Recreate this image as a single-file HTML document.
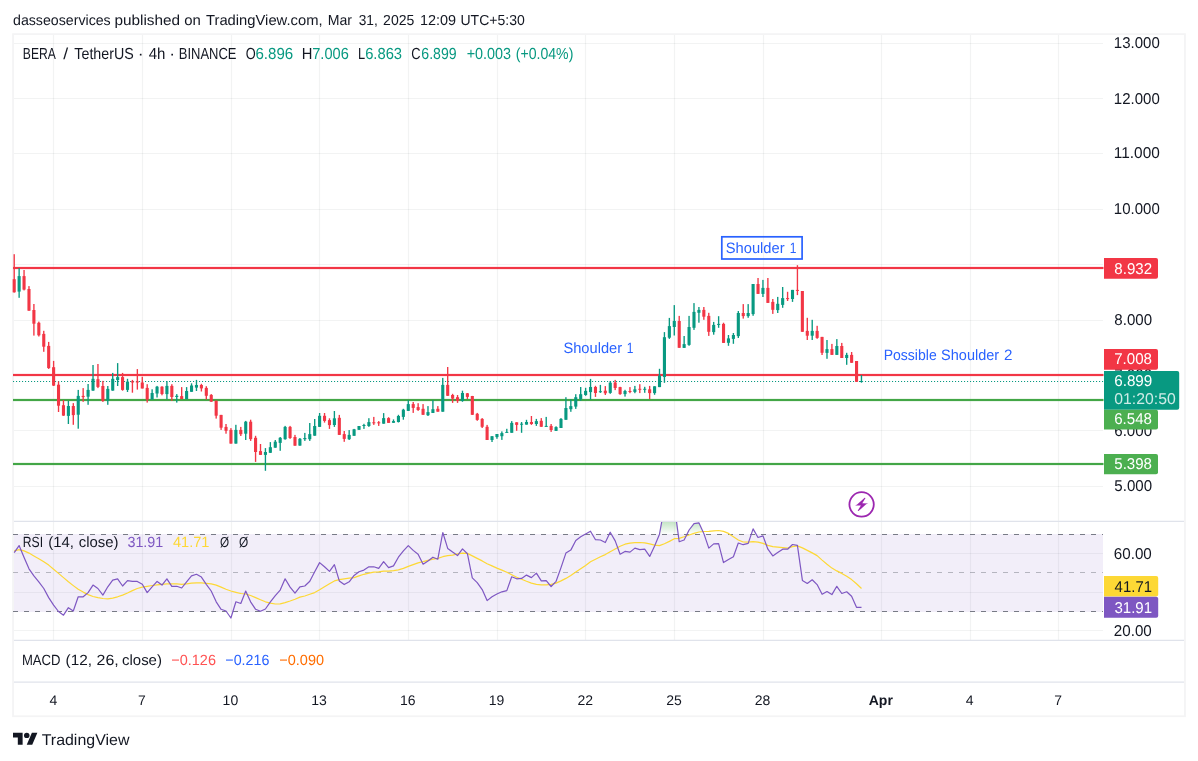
<!DOCTYPE html>
<html><head><meta charset="utf-8"><title>BERA / TetherUS chart</title>
<style>
html,body{margin:0;padding:0;background:#fff;}
body{width:1198px;height:761px;position:relative;overflow:hidden;font-family:"Liberation Sans",sans-serif;}
svg{position:absolute;left:0;top:0;}
</style></head><body>
<svg width="1198" height="761" viewBox="0 0 1198 761" shape-rendering="auto">
<line x1="13" x2="1103" y1="486.5" y2="486.5" stroke="#2a2e39" stroke-opacity="0.06" stroke-width="1.15"/>
<line x1="13" x2="1103" y1="430.5" y2="430.5" stroke="#2a2e39" stroke-opacity="0.06" stroke-width="1.15"/>
<line x1="13" x2="1103" y1="375.5" y2="375.5" stroke="#2a2e39" stroke-opacity="0.06" stroke-width="1.15"/>
<line x1="13" x2="1103" y1="320.5" y2="320.5" stroke="#2a2e39" stroke-opacity="0.06" stroke-width="1.15"/>
<line x1="13" x2="1103" y1="264.5" y2="264.5" stroke="#2a2e39" stroke-opacity="0.06" stroke-width="1.15"/>
<line x1="13" x2="1103" y1="209.5" y2="209.5" stroke="#2a2e39" stroke-opacity="0.06" stroke-width="1.15"/>
<line x1="13" x2="1103" y1="153.5" y2="153.5" stroke="#2a2e39" stroke-opacity="0.06" stroke-width="1.15"/>
<line x1="13" x2="1103" y1="98.5" y2="98.5" stroke="#2a2e39" stroke-opacity="0.06" stroke-width="1.15"/>
<line x1="13" x2="1103" y1="43.5" y2="43.5" stroke="#2a2e39" stroke-opacity="0.06" stroke-width="1.15"/>
<line x1="53.5" x2="53.5" y1="35" y2="521" stroke="#2a2e39" stroke-opacity="0.06" stroke-width="1.15"/>
<line x1="53.5" x2="53.5" y1="522" y2="640" stroke="#2a2e39" stroke-opacity="0.06" stroke-width="1.15"/>
<line x1="142.5" x2="142.5" y1="35" y2="521" stroke="#2a2e39" stroke-opacity="0.06" stroke-width="1.15"/>
<line x1="142.5" x2="142.5" y1="522" y2="640" stroke="#2a2e39" stroke-opacity="0.06" stroke-width="1.15"/>
<line x1="231.5" x2="231.5" y1="35" y2="521" stroke="#2a2e39" stroke-opacity="0.06" stroke-width="1.15"/>
<line x1="231.5" x2="231.5" y1="522" y2="640" stroke="#2a2e39" stroke-opacity="0.06" stroke-width="1.15"/>
<line x1="319.5" x2="319.5" y1="35" y2="521" stroke="#2a2e39" stroke-opacity="0.06" stroke-width="1.15"/>
<line x1="319.5" x2="319.5" y1="522" y2="640" stroke="#2a2e39" stroke-opacity="0.06" stroke-width="1.15"/>
<line x1="408.5" x2="408.5" y1="35" y2="521" stroke="#2a2e39" stroke-opacity="0.06" stroke-width="1.15"/>
<line x1="408.5" x2="408.5" y1="522" y2="640" stroke="#2a2e39" stroke-opacity="0.06" stroke-width="1.15"/>
<line x1="497.5" x2="497.5" y1="35" y2="521" stroke="#2a2e39" stroke-opacity="0.06" stroke-width="1.15"/>
<line x1="497.5" x2="497.5" y1="522" y2="640" stroke="#2a2e39" stroke-opacity="0.06" stroke-width="1.15"/>
<line x1="585.5" x2="585.5" y1="35" y2="521" stroke="#2a2e39" stroke-opacity="0.06" stroke-width="1.15"/>
<line x1="585.5" x2="585.5" y1="522" y2="640" stroke="#2a2e39" stroke-opacity="0.06" stroke-width="1.15"/>
<line x1="674.5" x2="674.5" y1="35" y2="521" stroke="#2a2e39" stroke-opacity="0.06" stroke-width="1.15"/>
<line x1="674.5" x2="674.5" y1="522" y2="640" stroke="#2a2e39" stroke-opacity="0.06" stroke-width="1.15"/>
<line x1="763.5" x2="763.5" y1="35" y2="521" stroke="#2a2e39" stroke-opacity="0.06" stroke-width="1.15"/>
<line x1="763.5" x2="763.5" y1="522" y2="640" stroke="#2a2e39" stroke-opacity="0.06" stroke-width="1.15"/>
<line x1="881.5" x2="881.5" y1="35" y2="521" stroke="#2a2e39" stroke-opacity="0.06" stroke-width="1.15"/>
<line x1="881.5" x2="881.5" y1="522" y2="640" stroke="#2a2e39" stroke-opacity="0.06" stroke-width="1.15"/>
<line x1="970.5" x2="970.5" y1="35" y2="521" stroke="#2a2e39" stroke-opacity="0.06" stroke-width="1.15"/>
<line x1="970.5" x2="970.5" y1="522" y2="640" stroke="#2a2e39" stroke-opacity="0.06" stroke-width="1.15"/>
<line x1="1058.5" x2="1058.5" y1="35" y2="521" stroke="#2a2e39" stroke-opacity="0.06" stroke-width="1.15"/>
<line x1="1058.5" x2="1058.5" y1="522" y2="640" stroke="#2a2e39" stroke-opacity="0.06" stroke-width="1.15"/>
<line x1="13" x2="1103" y1="630.5" y2="630.5" stroke="#2a2e39" stroke-opacity="0.06" stroke-width="1.15"/>
<line x1="13" x2="1103" y1="592.5" y2="592.5" stroke="#2a2e39" stroke-opacity="0.06" stroke-width="1.15"/>
<line x1="13" x2="1103" y1="553.5" y2="553.5" stroke="#2a2e39" stroke-opacity="0.06" stroke-width="1.15"/>
<rect x="13" y="534" width="1090" height="78" fill="#7e57c2" fill-opacity="0.1"/>
<line x1="13" x2="1184.5" y1="521.4" y2="521.4" stroke="#e0e3eb" stroke-width="1.2"/>
<line x1="13" x2="1184.5" y1="640.4" y2="640.4" stroke="#e0e3eb" stroke-width="1.2"/>
<line x1="13" x2="1184.5" y1="682.2" y2="682.2" stroke="#e0e3eb" stroke-width="1.2"/>
<rect x="13.05" y="34.15" width="1171.9" height="682.1" fill="none" stroke="#f4f4f5" stroke-width="1.8"/>
<line x1="13" x2="1103.5" y1="381.5" y2="381.5" stroke="#089981" stroke-width="1.1" stroke-dasharray="1.1 1.9"/>
<rect x="13" y="266.9" width="1090.5" height="2.2" fill="#f23645"/>
<rect x="13" y="373.9" width="1090.5" height="2.2" fill="#f23645"/>
<rect x="13" y="398.9" width="1090.5" height="2.2" fill="#43a647"/>
<rect x="13" y="462.9" width="1090.5" height="2.2" fill="#43a647"/>
<rect x="13.52" y="254.2" width="1.36" height="38.4" fill="#f23645"/>
<rect x="12.65" y="279.2" width="3.1" height="13.1" fill="#f23645"/>
<rect x="18.45" y="268.0" width="1.36" height="29.8" fill="#089981"/>
<rect x="17.58" y="276.1" width="3.1" height="15.5" fill="#089981"/>
<rect x="23.37" y="270.0" width="1.36" height="20.4" fill="#f23645"/>
<rect x="22.50" y="276.1" width="3.1" height="13.5" fill="#f23645"/>
<rect x="28.30" y="286.1" width="1.36" height="24.6" fill="#f23645"/>
<rect x="27.43" y="289.0" width="3.1" height="21.7" fill="#f23645"/>
<rect x="33.22" y="304.0" width="1.36" height="31.6" fill="#f23645"/>
<rect x="32.35" y="310.0" width="3.1" height="13.7" fill="#f23645"/>
<rect x="38.15" y="321.6" width="1.36" height="14.9" fill="#f23645"/>
<rect x="37.28" y="322.8" width="3.1" height="12.5" fill="#f23645"/>
<rect x="43.08" y="330.8" width="1.36" height="21.0" fill="#f23645"/>
<rect x="42.21" y="333.9" width="3.1" height="12.8" fill="#f23645"/>
<rect x="48.00" y="341.9" width="1.36" height="27.0" fill="#f23645"/>
<rect x="47.13" y="345.9" width="3.1" height="22.2" fill="#f23645"/>
<rect x="52.93" y="360.9" width="1.36" height="25.1" fill="#f23645"/>
<rect x="52.06" y="367.2" width="3.1" height="18.4" fill="#f23645"/>
<rect x="57.85" y="381.4" width="1.36" height="30.6" fill="#f23645"/>
<rect x="56.98" y="384.7" width="3.1" height="21.0" fill="#f23645"/>
<rect x="62.78" y="400.0" width="1.36" height="15.9" fill="#f23645"/>
<rect x="61.91" y="405.2" width="3.1" height="10.4" fill="#f23645"/>
<rect x="67.71" y="400.9" width="1.36" height="23.1" fill="#089981"/>
<rect x="66.84" y="406.0" width="3.1" height="9.9" fill="#089981"/>
<rect x="72.63" y="403.1" width="1.36" height="21.7" fill="#f23645"/>
<rect x="71.76" y="406.0" width="3.1" height="9.1" fill="#f23645"/>
<rect x="77.56" y="389.9" width="1.36" height="38.8" fill="#089981"/>
<rect x="76.69" y="395.9" width="3.1" height="18.8" fill="#089981"/>
<rect x="82.48" y="388.1" width="1.36" height="13.7" fill="#f23645"/>
<rect x="81.61" y="395.9" width="3.1" height="1.2" fill="#f23645"/>
<rect x="87.41" y="384.0" width="1.36" height="20.8" fill="#089981"/>
<rect x="86.54" y="389.9" width="3.1" height="6.8" fill="#089981"/>
<rect x="92.34" y="365.0" width="1.36" height="25.8" fill="#089981"/>
<rect x="91.47" y="378.8" width="3.1" height="11.8" fill="#089981"/>
<rect x="97.26" y="364.0" width="1.36" height="24.1" fill="#f23645"/>
<rect x="96.39" y="379.2" width="3.1" height="7.7" fill="#f23645"/>
<rect x="102.19" y="380.9" width="1.36" height="21.0" fill="#f23645"/>
<rect x="101.32" y="386.0" width="3.1" height="15.0" fill="#f23645"/>
<rect x="107.11" y="386.0" width="1.36" height="18.8" fill="#089981"/>
<rect x="106.24" y="388.9" width="3.1" height="11.6" fill="#089981"/>
<rect x="112.04" y="372.9" width="1.36" height="17.8" fill="#089981"/>
<rect x="111.17" y="378.8" width="3.1" height="11.8" fill="#089981"/>
<rect x="116.97" y="363.1" width="1.36" height="22.9" fill="#089981"/>
<rect x="116.10" y="377.1" width="3.1" height="2.9" fill="#089981"/>
<rect x="121.89" y="372.9" width="1.36" height="17.8" fill="#f23645"/>
<rect x="121.02" y="377.1" width="3.1" height="12.8" fill="#f23645"/>
<rect x="126.82" y="378.8" width="1.36" height="13.2" fill="#089981"/>
<rect x="125.95" y="381.7" width="3.1" height="8.2" fill="#089981"/>
<rect x="131.74" y="379.9" width="1.36" height="12.8" fill="#f23645"/>
<rect x="130.87" y="381.3" width="3.1" height="1.2" fill="#f23645"/>
<rect x="136.67" y="369.1" width="1.36" height="20.5" fill="#f23645"/>
<rect x="135.80" y="381.3" width="3.1" height="1.2" fill="#f23645"/>
<rect x="141.60" y="376.8" width="1.36" height="11.6" fill="#f23645"/>
<rect x="140.73" y="382.5" width="3.1" height="6.0" fill="#f23645"/>
<rect x="146.52" y="384.2" width="1.36" height="18.4" fill="#f23645"/>
<rect x="145.65" y="387.9" width="3.1" height="11.6" fill="#f23645"/>
<rect x="151.45" y="389.3" width="1.36" height="10.2" fill="#089981"/>
<rect x="150.58" y="393.0" width="3.1" height="6.5" fill="#089981"/>
<rect x="156.37" y="385.9" width="1.36" height="11.6" fill="#089981"/>
<rect x="155.50" y="386.7" width="3.1" height="6.8" fill="#089981"/>
<rect x="161.30" y="386.2" width="1.36" height="9.1" fill="#f23645"/>
<rect x="160.43" y="386.7" width="3.1" height="7.3" fill="#f23645"/>
<rect x="166.23" y="381.1" width="1.36" height="18.1" fill="#089981"/>
<rect x="165.36" y="385.9" width="3.1" height="8.2" fill="#089981"/>
<rect x="171.15" y="384.2" width="1.36" height="16.6" fill="#f23645"/>
<rect x="170.28" y="385.9" width="3.1" height="11.1" fill="#f23645"/>
<rect x="176.08" y="394.1" width="1.36" height="8.5" fill="#089981"/>
<rect x="175.21" y="395.8" width="3.1" height="1.2" fill="#089981"/>
<rect x="181.00" y="387.1" width="1.36" height="12.0" fill="#f23645"/>
<rect x="180.13" y="396.1" width="3.1" height="2.9" fill="#f23645"/>
<rect x="185.93" y="387.1" width="1.36" height="12.1" fill="#089981"/>
<rect x="185.06" y="391.0" width="3.1" height="8.0" fill="#089981"/>
<rect x="190.86" y="383.3" width="1.36" height="8.5" fill="#089981"/>
<rect x="189.99" y="385.5" width="3.1" height="6.3" fill="#089981"/>
<rect x="195.78" y="379.9" width="1.36" height="11.1" fill="#089981"/>
<rect x="194.91" y="385.0" width="3.1" height="2.6" fill="#089981"/>
<rect x="200.71" y="383.8" width="1.36" height="7.7" fill="#f23645"/>
<rect x="199.84" y="385.0" width="3.1" height="3.4" fill="#f23645"/>
<rect x="205.63" y="386.2" width="1.36" height="13.3" fill="#f23645"/>
<rect x="204.76" y="387.9" width="3.1" height="7.9" fill="#f23645"/>
<rect x="210.56" y="394.1" width="1.36" height="7.7" fill="#f23645"/>
<rect x="209.69" y="394.9" width="3.1" height="6.8" fill="#f23645"/>
<rect x="215.49" y="400.7" width="1.36" height="17.9" fill="#f23645"/>
<rect x="214.62" y="400.7" width="3.1" height="15.0" fill="#f23645"/>
<rect x="220.41" y="414.9" width="1.36" height="15.0" fill="#f23645"/>
<rect x="219.54" y="414.9" width="3.1" height="12.8" fill="#f23645"/>
<rect x="225.34" y="424.0" width="1.36" height="9.7" fill="#f23645"/>
<rect x="224.47" y="426.9" width="3.1" height="3.9" fill="#f23645"/>
<rect x="230.26" y="428.1" width="1.36" height="15.5" fill="#f23645"/>
<rect x="229.39" y="429.9" width="3.1" height="13.7" fill="#f23645"/>
<rect x="235.19" y="424.8" width="1.36" height="18.8" fill="#089981"/>
<rect x="234.32" y="429.9" width="3.1" height="13.7" fill="#089981"/>
<rect x="240.12" y="426.9" width="1.36" height="9.1" fill="#f23645"/>
<rect x="239.25" y="429.9" width="3.1" height="4.3" fill="#f23645"/>
<rect x="245.04" y="420.9" width="1.36" height="19.1" fill="#089981"/>
<rect x="244.17" y="421.7" width="3.1" height="12.0" fill="#089981"/>
<rect x="249.97" y="419.7" width="1.36" height="21.2" fill="#f23645"/>
<rect x="249.10" y="421.7" width="3.1" height="17.4" fill="#f23645"/>
<rect x="254.89" y="435.8" width="1.36" height="26.1" fill="#f23645"/>
<rect x="254.02" y="437.8" width="3.1" height="14.2" fill="#f23645"/>
<rect x="259.82" y="444.0" width="1.36" height="10.9" fill="#f23645"/>
<rect x="258.95" y="451.1" width="3.1" height="3.8" fill="#f23645"/>
<rect x="264.75" y="448.1" width="1.36" height="22.7" fill="#089981"/>
<rect x="263.88" y="452.0" width="3.1" height="2.9" fill="#089981"/>
<rect x="269.67" y="442.1" width="1.36" height="10.8" fill="#089981"/>
<rect x="268.80" y="447.2" width="3.1" height="5.6" fill="#089981"/>
<rect x="274.60" y="440.0" width="1.36" height="7.7" fill="#089981"/>
<rect x="273.73" y="441.7" width="3.1" height="6.0" fill="#089981"/>
<rect x="279.52" y="437.0" width="1.36" height="13.8" fill="#089981"/>
<rect x="278.65" y="437.8" width="3.1" height="5.1" fill="#089981"/>
<rect x="284.45" y="425.9" width="1.36" height="13.8" fill="#089981"/>
<rect x="283.58" y="426.9" width="3.1" height="12.3" fill="#089981"/>
<rect x="289.38" y="425.9" width="1.36" height="13.0" fill="#f23645"/>
<rect x="288.51" y="426.9" width="3.1" height="11.1" fill="#f23645"/>
<rect x="294.30" y="434.9" width="1.36" height="10.8" fill="#f23645"/>
<rect x="293.43" y="437.0" width="3.1" height="8.7" fill="#f23645"/>
<rect x="299.23" y="438.0" width="1.36" height="7.7" fill="#089981"/>
<rect x="298.36" y="438.8" width="3.1" height="6.8" fill="#089981"/>
<rect x="304.15" y="432.9" width="1.36" height="8.0" fill="#089981"/>
<rect x="303.28" y="438.0" width="3.1" height="1.2" fill="#089981"/>
<rect x="309.08" y="423.0" width="1.36" height="17.9" fill="#089981"/>
<rect x="308.21" y="434.1" width="3.1" height="5.1" fill="#089981"/>
<rect x="314.01" y="419.0" width="1.36" height="16.7" fill="#089981"/>
<rect x="313.14" y="426.0" width="3.1" height="9.7" fill="#089981"/>
<rect x="318.93" y="413.0" width="1.36" height="13.8" fill="#089981"/>
<rect x="318.06" y="415.8" width="3.1" height="11.1" fill="#089981"/>
<rect x="323.86" y="413.0" width="1.36" height="9.6" fill="#f23645"/>
<rect x="322.99" y="415.8" width="3.1" height="5.1" fill="#f23645"/>
<rect x="328.78" y="418.3" width="1.36" height="10.6" fill="#f23645"/>
<rect x="327.91" y="420.1" width="3.1" height="5.0" fill="#f23645"/>
<rect x="333.71" y="411.0" width="1.36" height="15.9" fill="#089981"/>
<rect x="332.84" y="418.3" width="3.1" height="6.7" fill="#089981"/>
<rect x="338.64" y="414.9" width="1.36" height="20.0" fill="#f23645"/>
<rect x="337.77" y="417.8" width="3.1" height="17.1" fill="#f23645"/>
<rect x="343.56" y="431.0" width="1.36" height="10.8" fill="#f23645"/>
<rect x="342.69" y="434.1" width="3.1" height="4.8" fill="#f23645"/>
<rect x="348.49" y="430.1" width="1.36" height="9.9" fill="#089981"/>
<rect x="347.62" y="434.9" width="3.1" height="4.3" fill="#089981"/>
<rect x="353.41" y="428.9" width="1.36" height="6.8" fill="#089981"/>
<rect x="352.54" y="429.3" width="3.1" height="6.5" fill="#089981"/>
<rect x="358.34" y="426.0" width="1.36" height="3.8" fill="#089981"/>
<rect x="357.47" y="426.0" width="3.1" height="3.8" fill="#089981"/>
<rect x="363.27" y="423.8" width="1.36" height="5.1" fill="#089981"/>
<rect x="362.40" y="425.0" width="3.1" height="1.0" fill="#089981"/>
<rect x="368.19" y="418.2" width="1.36" height="8.7" fill="#089981"/>
<rect x="367.32" y="422.1" width="3.1" height="3.9" fill="#089981"/>
<rect x="373.12" y="416.9" width="1.36" height="8.0" fill="#f23645"/>
<rect x="372.25" y="422.3" width="3.1" height="1.0" fill="#f23645"/>
<rect x="378.04" y="421.1" width="1.36" height="4.8" fill="#f23645"/>
<rect x="377.17" y="422.3" width="3.1" height="1.0" fill="#f23645"/>
<rect x="382.97" y="413.1" width="1.36" height="10.6" fill="#089981"/>
<rect x="382.10" y="418.1" width="3.1" height="5.6" fill="#089981"/>
<rect x="387.90" y="417.2" width="1.36" height="5.6" fill="#f23645"/>
<rect x="387.03" y="418.1" width="3.1" height="4.8" fill="#f23645"/>
<rect x="392.82" y="419.4" width="1.36" height="3.4" fill="#089981"/>
<rect x="391.95" y="421.1" width="3.1" height="1.7" fill="#089981"/>
<rect x="397.75" y="414.8" width="1.36" height="7.7" fill="#089981"/>
<rect x="396.88" y="416.0" width="3.1" height="6.0" fill="#089981"/>
<rect x="402.67" y="408.8" width="1.36" height="10.9" fill="#089981"/>
<rect x="401.80" y="409.7" width="3.1" height="7.2" fill="#089981"/>
<rect x="407.60" y="400.1" width="1.36" height="10.8" fill="#089981"/>
<rect x="406.73" y="404.1" width="3.1" height="6.8" fill="#089981"/>
<rect x="412.53" y="402.0" width="1.36" height="10.9" fill="#f23645"/>
<rect x="411.66" y="404.1" width="3.1" height="3.8" fill="#f23645"/>
<rect x="417.45" y="403.2" width="1.36" height="7.7" fill="#f23645"/>
<rect x="416.58" y="407.1" width="3.1" height="2.9" fill="#f23645"/>
<rect x="422.38" y="404.1" width="1.36" height="10.8" fill="#f23645"/>
<rect x="421.51" y="408.8" width="3.1" height="6.0" fill="#f23645"/>
<rect x="427.30" y="406.1" width="1.36" height="9.9" fill="#089981"/>
<rect x="426.43" y="412.1" width="3.1" height="3.1" fill="#089981"/>
<rect x="432.23" y="400.1" width="1.36" height="12.8" fill="#089981"/>
<rect x="431.36" y="409.2" width="3.1" height="3.8" fill="#089981"/>
<rect x="437.16" y="406.1" width="1.36" height="5.6" fill="#f23645"/>
<rect x="436.29" y="408.8" width="3.1" height="2.9" fill="#f23645"/>
<rect x="442.08" y="377.9" width="1.36" height="33.8" fill="#089981"/>
<rect x="441.21" y="384.9" width="3.1" height="26.8" fill="#089981"/>
<rect x="447.01" y="367.0" width="1.36" height="28.9" fill="#f23645"/>
<rect x="446.14" y="384.9" width="3.1" height="10.9" fill="#f23645"/>
<rect x="451.93" y="393.8" width="1.36" height="9.1" fill="#f23645"/>
<rect x="451.06" y="395.0" width="3.1" height="3.6" fill="#f23645"/>
<rect x="456.86" y="395.0" width="1.36" height="7.9" fill="#f23645"/>
<rect x="455.99" y="397.2" width="3.1" height="3.8" fill="#f23645"/>
<rect x="461.79" y="390.7" width="1.36" height="11.1" fill="#089981"/>
<rect x="460.92" y="393.0" width="3.1" height="8.0" fill="#089981"/>
<rect x="466.71" y="393.0" width="1.36" height="6.0" fill="#f23645"/>
<rect x="465.84" y="393.3" width="3.1" height="3.6" fill="#f23645"/>
<rect x="471.64" y="395.9" width="1.36" height="19.0" fill="#f23645"/>
<rect x="470.77" y="396.0" width="3.1" height="18.8" fill="#f23645"/>
<rect x="476.56" y="412.9" width="1.36" height="7.9" fill="#f23645"/>
<rect x="475.69" y="413.8" width="3.1" height="6.1" fill="#f23645"/>
<rect x="481.49" y="418.1" width="1.36" height="9.9" fill="#f23645"/>
<rect x="480.62" y="418.9" width="3.1" height="7.9" fill="#f23645"/>
<rect x="486.42" y="424.9" width="1.36" height="15.0" fill="#f23645"/>
<rect x="485.55" y="426.8" width="3.1" height="13.2" fill="#f23645"/>
<rect x="491.34" y="436.2" width="1.36" height="5.8" fill="#089981"/>
<rect x="490.47" y="436.2" width="3.1" height="3.8" fill="#089981"/>
<rect x="496.27" y="434.0" width="1.36" height="4.8" fill="#089981"/>
<rect x="495.40" y="434.0" width="3.1" height="3.1" fill="#089981"/>
<rect x="501.19" y="431.4" width="1.36" height="8.5" fill="#089981"/>
<rect x="500.32" y="433.1" width="3.1" height="3.1" fill="#089981"/>
<rect x="506.12" y="428.8" width="1.36" height="3.9" fill="#089981"/>
<rect x="505.25" y="431.9" width="3.1" height="1.0" fill="#089981"/>
<rect x="511.05" y="421.1" width="1.36" height="11.6" fill="#089981"/>
<rect x="510.18" y="422.9" width="3.1" height="9.9" fill="#089981"/>
<rect x="515.97" y="422.3" width="1.36" height="8.5" fill="#f23645"/>
<rect x="515.10" y="422.3" width="3.1" height="2.6" fill="#f23645"/>
<rect x="520.90" y="422.0" width="1.36" height="10.8" fill="#089981"/>
<rect x="520.03" y="423.7" width="3.1" height="1.0" fill="#089981"/>
<rect x="525.82" y="419.8" width="1.36" height="4.8" fill="#089981"/>
<rect x="524.95" y="422.0" width="3.1" height="2.6" fill="#089981"/>
<rect x="530.75" y="416.0" width="1.36" height="8.9" fill="#f23645"/>
<rect x="529.88" y="422.0" width="3.1" height="2.0" fill="#f23645"/>
<rect x="535.68" y="418.9" width="1.36" height="7.0" fill="#089981"/>
<rect x="534.81" y="421.1" width="3.1" height="2.9" fill="#089981"/>
<rect x="540.60" y="418.1" width="1.36" height="8.7" fill="#f23645"/>
<rect x="539.73" y="420.8" width="3.1" height="6.0" fill="#f23645"/>
<rect x="545.53" y="416.9" width="1.36" height="9.9" fill="#089981"/>
<rect x="544.66" y="425.9" width="3.1" height="1.0" fill="#089981"/>
<rect x="550.45" y="424.0" width="1.36" height="7.9" fill="#f23645"/>
<rect x="549.58" y="425.9" width="3.1" height="4.1" fill="#f23645"/>
<rect x="555.38" y="426.3" width="1.36" height="4.6" fill="#089981"/>
<rect x="554.51" y="427.1" width="3.1" height="3.8" fill="#089981"/>
<rect x="560.31" y="418.1" width="1.36" height="9.9" fill="#089981"/>
<rect x="559.44" y="418.9" width="3.1" height="9.1" fill="#089981"/>
<rect x="565.23" y="397.2" width="1.36" height="22.5" fill="#089981"/>
<rect x="564.36" y="408.0" width="3.1" height="11.8" fill="#089981"/>
<rect x="570.16" y="399.3" width="1.36" height="12.5" fill="#089981"/>
<rect x="569.29" y="406.1" width="3.1" height="3.1" fill="#089981"/>
<rect x="575.08" y="394.2" width="1.36" height="14.7" fill="#089981"/>
<rect x="574.21" y="397.2" width="3.1" height="9.4" fill="#089981"/>
<rect x="580.01" y="387.0" width="1.36" height="13.7" fill="#089981"/>
<rect x="579.14" y="394.2" width="3.1" height="4.8" fill="#089981"/>
<rect x="584.94" y="387.8" width="1.36" height="8.0" fill="#089981"/>
<rect x="584.07" y="390.9" width="3.1" height="4.1" fill="#089981"/>
<rect x="589.86" y="378.9" width="1.36" height="20.8" fill="#089981"/>
<rect x="588.99" y="387.0" width="3.1" height="5.1" fill="#089981"/>
<rect x="594.79" y="385.8" width="1.36" height="11.1" fill="#f23645"/>
<rect x="593.92" y="387.0" width="3.1" height="6.0" fill="#f23645"/>
<rect x="599.71" y="384.9" width="1.36" height="8.0" fill="#089981"/>
<rect x="598.84" y="391.2" width="3.1" height="1.0" fill="#089981"/>
<rect x="604.64" y="386.1" width="1.36" height="8.9" fill="#f23645"/>
<rect x="603.77" y="390.7" width="3.1" height="2.6" fill="#f23645"/>
<rect x="609.57" y="381.0" width="1.36" height="12.8" fill="#089981"/>
<rect x="608.70" y="382.7" width="3.1" height="10.2" fill="#089981"/>
<rect x="614.49" y="379.9" width="1.36" height="10.2" fill="#f23645"/>
<rect x="613.62" y="382.5" width="3.1" height="5.5" fill="#f23645"/>
<rect x="619.42" y="386.8" width="1.36" height="8.0" fill="#f23645"/>
<rect x="618.55" y="387.1" width="3.1" height="7.0" fill="#f23645"/>
<rect x="624.34" y="389.8" width="1.36" height="6.8" fill="#089981"/>
<rect x="623.47" y="391.0" width="3.1" height="3.1" fill="#089981"/>
<rect x="629.27" y="387.1" width="1.36" height="6.1" fill="#f23645"/>
<rect x="628.40" y="391.0" width="3.1" height="1.0" fill="#f23645"/>
<rect x="634.20" y="385.9" width="1.36" height="7.3" fill="#089981"/>
<rect x="633.33" y="389.3" width="3.1" height="2.6" fill="#089981"/>
<rect x="639.12" y="384.2" width="1.36" height="8.9" fill="#f23645"/>
<rect x="638.25" y="388.8" width="3.1" height="1.0" fill="#f23645"/>
<rect x="644.05" y="386.8" width="1.36" height="6.0" fill="#089981"/>
<rect x="643.18" y="388.8" width="3.1" height="1.0" fill="#089981"/>
<rect x="648.97" y="385.9" width="1.36" height="13.2" fill="#f23645"/>
<rect x="648.10" y="389.3" width="3.1" height="3.8" fill="#f23645"/>
<rect x="653.90" y="386.3" width="1.36" height="8.5" fill="#089981"/>
<rect x="653.03" y="386.3" width="3.1" height="6.8" fill="#089981"/>
<rect x="658.83" y="368.8" width="1.36" height="18.3" fill="#089981"/>
<rect x="657.96" y="375.7" width="3.1" height="11.4" fill="#089981"/>
<rect x="663.75" y="332.1" width="1.36" height="50.7" fill="#089981"/>
<rect x="662.88" y="337.2" width="3.1" height="39.8" fill="#089981"/>
<rect x="668.68" y="317.9" width="1.36" height="21.0" fill="#089981"/>
<rect x="667.81" y="326.1" width="3.1" height="11.6" fill="#089981"/>
<rect x="673.60" y="305.1" width="1.36" height="30.4" fill="#089981"/>
<rect x="672.73" y="321.0" width="3.1" height="6.0" fill="#089981"/>
<rect x="678.53" y="315.9" width="1.36" height="31.9" fill="#f23645"/>
<rect x="677.66" y="321.0" width="3.1" height="26.8" fill="#f23645"/>
<rect x="683.46" y="336.0" width="1.36" height="11.8" fill="#089981"/>
<rect x="682.59" y="344.1" width="3.1" height="3.8" fill="#089981"/>
<rect x="688.38" y="315.9" width="1.36" height="29.9" fill="#089981"/>
<rect x="687.51" y="327.0" width="3.1" height="17.9" fill="#089981"/>
<rect x="693.31" y="303.1" width="1.36" height="26.8" fill="#089981"/>
<rect x="692.44" y="311.9" width="3.1" height="15.9" fill="#089981"/>
<rect x="698.23" y="307.0" width="1.36" height="15.7" fill="#089981"/>
<rect x="697.36" y="309.9" width="3.1" height="2.9" fill="#089981"/>
<rect x="703.16" y="307.0" width="1.36" height="12.8" fill="#f23645"/>
<rect x="702.29" y="309.9" width="3.1" height="6.8" fill="#f23645"/>
<rect x="708.09" y="312.8" width="1.36" height="23.1" fill="#f23645"/>
<rect x="707.22" y="315.9" width="3.1" height="15.9" fill="#f23645"/>
<rect x="713.01" y="321.9" width="1.36" height="12.8" fill="#089981"/>
<rect x="712.14" y="324.9" width="3.1" height="7.2" fill="#089981"/>
<rect x="717.94" y="316.2" width="1.36" height="11.6" fill="#089981"/>
<rect x="717.07" y="323.9" width="3.1" height="1.0" fill="#089981"/>
<rect x="722.86" y="322.7" width="1.36" height="20.2" fill="#f23645"/>
<rect x="721.99" y="323.9" width="3.1" height="19.0" fill="#f23645"/>
<rect x="727.79" y="335.0" width="1.36" height="10.8" fill="#089981"/>
<rect x="726.92" y="338.4" width="3.1" height="4.4" fill="#089981"/>
<rect x="732.72" y="333.0" width="1.36" height="10.8" fill="#089981"/>
<rect x="731.85" y="335.0" width="3.1" height="3.9" fill="#089981"/>
<rect x="737.64" y="311.0" width="1.36" height="27.0" fill="#089981"/>
<rect x="736.77" y="313.0" width="3.1" height="23.1" fill="#089981"/>
<rect x="742.57" y="304.1" width="1.36" height="14.5" fill="#f23645"/>
<rect x="741.70" y="313.0" width="3.1" height="3.1" fill="#f23645"/>
<rect x="747.49" y="304.1" width="1.36" height="13.7" fill="#089981"/>
<rect x="746.62" y="313.0" width="3.1" height="3.1" fill="#089981"/>
<rect x="752.42" y="284.0" width="1.36" height="31.8" fill="#089981"/>
<rect x="751.55" y="284.0" width="3.1" height="30.1" fill="#089981"/>
<rect x="757.35" y="278.0" width="1.36" height="15.9" fill="#f23645"/>
<rect x="756.48" y="284.0" width="3.1" height="9.9" fill="#f23645"/>
<rect x="762.27" y="279.9" width="1.36" height="17.1" fill="#089981"/>
<rect x="761.40" y="287.9" width="3.1" height="6.0" fill="#089981"/>
<rect x="767.20" y="278.0" width="1.36" height="24.9" fill="#f23645"/>
<rect x="766.33" y="287.9" width="3.1" height="15.0" fill="#f23645"/>
<rect x="772.12" y="299.0" width="1.36" height="14.9" fill="#f23645"/>
<rect x="771.25" y="301.9" width="3.1" height="7.9" fill="#f23645"/>
<rect x="777.05" y="296.9" width="1.36" height="16.1" fill="#089981"/>
<rect x="776.18" y="303.8" width="3.1" height="6.3" fill="#089981"/>
<rect x="781.98" y="287.0" width="1.36" height="20.8" fill="#089981"/>
<rect x="781.11" y="298.1" width="3.1" height="6.8" fill="#089981"/>
<rect x="786.90" y="291.8" width="1.36" height="9.2" fill="#f23645"/>
<rect x="786.03" y="298.1" width="3.1" height="1.0" fill="#f23645"/>
<rect x="791.83" y="289.9" width="1.36" height="12.0" fill="#089981"/>
<rect x="790.96" y="289.9" width="3.1" height="9.1" fill="#089981"/>
<rect x="796.75" y="265.2" width="1.36" height="29.9" fill="#f23645"/>
<rect x="795.88" y="289.9" width="3.1" height="1.0" fill="#f23645"/>
<rect x="801.68" y="291.0" width="1.36" height="40.8" fill="#f23645"/>
<rect x="800.81" y="291.0" width="3.1" height="40.8" fill="#f23645"/>
<rect x="806.61" y="317.8" width="1.36" height="22.2" fill="#f23645"/>
<rect x="805.74" y="330.9" width="3.1" height="4.8" fill="#f23645"/>
<rect x="811.53" y="319.8" width="1.36" height="20.2" fill="#089981"/>
<rect x="810.66" y="330.9" width="3.1" height="4.8" fill="#089981"/>
<rect x="816.46" y="325.8" width="1.36" height="13.0" fill="#f23645"/>
<rect x="815.59" y="330.9" width="3.1" height="7.0" fill="#f23645"/>
<rect x="821.38" y="336.9" width="1.36" height="18.1" fill="#f23645"/>
<rect x="820.51" y="336.9" width="3.1" height="15.9" fill="#f23645"/>
<rect x="826.31" y="340.0" width="1.36" height="18.8" fill="#089981"/>
<rect x="825.44" y="349.1" width="3.1" height="3.8" fill="#089981"/>
<rect x="831.24" y="343.9" width="1.36" height="10.9" fill="#f23645"/>
<rect x="830.37" y="349.1" width="3.1" height="5.8" fill="#f23645"/>
<rect x="836.16" y="339.1" width="1.36" height="15.7" fill="#089981"/>
<rect x="835.29" y="346.0" width="3.1" height="8.9" fill="#089981"/>
<rect x="841.09" y="342.9" width="1.36" height="15.0" fill="#f23645"/>
<rect x="840.22" y="346.0" width="3.1" height="12.0" fill="#f23645"/>
<rect x="846.01" y="352.8" width="1.36" height="12.0" fill="#089981"/>
<rect x="845.14" y="354.9" width="3.1" height="3.1" fill="#089981"/>
<rect x="850.94" y="352.0" width="1.36" height="10.8" fill="#f23645"/>
<rect x="850.07" y="354.9" width="3.1" height="7.9" fill="#f23645"/>
<rect x="855.87" y="361.0" width="1.36" height="20.8" fill="#f23645"/>
<rect x="855.00" y="361.0" width="3.1" height="20.8" fill="#f23645"/>
<rect x="860.79" y="375.0" width="1.36" height="7.7" fill="#089981"/>
<rect x="859.92" y="381.0" width="3.1" height="1.0" fill="#089981"/>
<defs><clipPath id="rc"><rect x="13" y="522" width="1091" height="118"/></clipPath><linearGradient id="gg" x1="0" y1="521" x2="0" y2="534.5" gradientUnits="userSpaceOnUse"><stop offset="0" stop-color="#4caf50" stop-opacity="0.35"/><stop offset="1" stop-color="#4caf50" stop-opacity="0"/></linearGradient></defs>
<g clip-path="url(#rc)"><path d="M442.4,534.5 L442.8,532.5 L443.4,534.5ZM584.5,534.5 L585.6,533.9 L590.5,531.2 L592.5,534.5ZM609.1,534.5 L610.2,532.2 L611.6,534.5ZM659.4,534.5 L659.5,534.2 L664.4,506.7 L669.4,502.5 L674.3,505.0 L678.2,534.5ZM686.9,534.5 L689.1,530.0 L694.0,523.7 L698.9,522.8 L703.8,533.4 L704.2,534.5ZM751.2,534.5 L753.1,528.9 L756.3,534.5Z" fill="url(#gg)"/>
<line x1="13" x2="1103" y1="534.5" y2="534.5" stroke="#787b86" stroke-width="1.1" stroke-dasharray="5 6" stroke-opacity="1"/>
<line x1="13" x2="1103" y1="572.5" y2="572.5" stroke="#787b86" stroke-width="1.1" stroke-dasharray="5 6" stroke-opacity="0.5"/>
<line x1="13" x2="1103" y1="611.5" y2="611.5" stroke="#787b86" stroke-width="1.1" stroke-dasharray="5 6" stroke-opacity="1"/>
<polyline fill="none" stroke="#fdd835" stroke-width="1.2" stroke-linejoin="round" points="14.2,550.9 19.1,549.7 24.1,550.9 29.0,553.1 33.9,555.9 38.8,558.7 43.8,561.7 48.7,565.1 53.6,569.3 58.5,573.4 63.5,577.6 68.4,581.8 73.3,585.6 78.2,589.3 83.2,592.1 88.1,594.6 93.0,596.5 97.9,597.6 102.9,598.5 107.8,598.8 112.7,598.1 117.6,596.8 122.6,595.1 127.5,593.0 132.4,590.6 137.3,588.5 142.3,587.1 147.2,586.3 152.1,585.5 157.1,584.8 162.0,584.3 166.9,583.9 171.8,583.8 176.8,583.9 181.7,584.3 186.6,583.8 191.5,583.1 196.5,582.8 201.4,582.9 206.3,583.4 211.2,583.9 216.2,585.1 221.1,587.1 226.0,589.3 230.9,591.0 235.9,592.3 240.8,593.5 245.7,594.0 250.6,595.5 255.6,597.6 260.5,599.8 265.4,601.8 270.4,603.1 275.3,604.0 280.2,603.8 285.1,602.6 290.1,601.0 295.0,599.3 299.9,597.1 304.8,596.0 309.8,594.3 314.7,592.6 319.6,589.8 324.5,586.8 329.5,583.8 334.4,580.9 339.3,579.6 344.2,578.8 349.2,578.1 354.1,577.6 359.0,575.9 363.9,574.3 368.9,573.1 373.8,572.1 378.7,571.8 383.6,571.1 388.6,571.1 393.5,570.6 398.4,569.8 403.4,568.4 408.3,566.4 413.2,564.6 418.1,562.9 423.1,561.7 428.0,560.4 432.9,559.2 437.8,558.4 442.8,556.7 447.7,555.6 452.6,555.1 457.5,553.9 462.5,553.1 467.4,553.4 472.3,555.9 477.2,558.4 482.2,560.9 487.1,563.7 492.0,565.9 496.9,568.1 501.9,570.1 506.8,572.3 511.7,574.8 516.7,577.3 521.6,579.3 526.5,581.3 531.4,583.1 536.4,584.4 541.3,584.8 546.2,584.8 551.1,584.3 556.1,583.1 561.0,580.9 565.9,578.4 570.8,575.4 575.8,572.1 580.7,568.8 585.6,565.4 590.5,561.7 595.5,559.2 600.4,556.7 605.3,554.6 610.2,551.7 615.2,548.9 620.1,546.2 625.0,544.2 630.0,543.2 634.9,542.7 639.8,542.5 644.7,542.9 649.7,543.9 654.6,545.1 659.5,545.6 664.4,543.7 669.4,541.4 674.3,538.7 679.2,538.4 684.1,536.7 689.1,535.0 694.0,533.4 698.9,532.0 703.8,531.5 708.8,531.4 713.7,530.9 718.6,530.5 723.5,531.4 728.5,533.4 733.4,536.7 738.3,540.0 743.2,542.0 748.2,542.2 753.1,541.7 758.0,542.2 763.0,543.4 767.9,545.4 772.8,546.7 777.7,547.1 782.7,547.6 787.6,548.1 792.5,546.7 797.4,545.9 802.4,547.9 807.3,550.4 812.2,552.9 817.1,555.6 822.1,560.1 827.0,564.2 831.9,568.1 836.8,570.9 841.8,573.4 846.7,576.3 851.6,579.6 856.5,583.8 861.5,588.5"/>
<polyline fill="none" stroke="#7e57c2" stroke-width="1.2" stroke-linejoin="round" points="14.2,552.6 19.1,545.6 24.1,557.6 29.0,568.8 33.9,575.9 38.8,581.8 43.8,588.5 48.7,597.6 53.6,605.2 58.5,611.5 63.5,615.2 68.4,607.7 73.3,611.0 78.2,596.8 83.2,596.8 88.1,592.6 93.0,585.1 97.9,588.5 102.9,595.1 107.8,586.8 112.7,580.1 117.6,578.8 122.6,586.0 127.5,580.6 132.4,581.3 137.3,581.4 142.3,584.3 147.2,592.6 152.1,586.8 157.1,581.4 162.0,585.1 166.9,578.8 171.8,586.3 176.8,586.3 181.7,588.0 186.6,581.8 191.5,575.9 196.5,574.3 201.4,577.1 206.3,584.3 211.2,591.0 216.2,601.8 221.1,609.3 226.0,611.0 230.9,618.0 235.9,601.8 240.8,603.5 245.7,591.0 250.6,601.8 255.6,609.3 260.5,611.3 265.4,609.0 270.4,601.8 275.3,595.6 280.2,590.1 285.1,578.8 290.1,587.1 295.0,593.1 299.9,586.8 304.8,586.0 309.8,581.3 314.7,571.8 319.6,562.6 324.5,566.8 329.5,571.4 334.4,564.7 339.3,580.9 344.2,584.6 349.2,581.8 354.1,575.4 359.0,571.8 363.9,570.1 368.9,566.8 373.8,566.8 378.7,568.4 383.6,561.7 388.6,567.6 393.5,565.9 398.4,557.2 403.4,550.9 408.3,545.6 413.2,550.4 418.1,554.2 423.1,564.2 428.0,560.9 432.9,557.2 437.8,559.2 442.8,532.5 447.7,548.4 452.6,552.1 457.5,555.6 462.5,548.9 467.4,553.7 472.3,577.9 477.2,582.6 482.2,589.6 487.1,600.6 492.0,596.8 496.9,594.0 501.9,591.8 506.8,590.6 511.7,576.8 516.7,578.8 521.6,578.4 526.5,575.1 531.4,577.6 536.4,573.1 541.3,580.9 546.2,580.6 551.1,586.5 556.1,581.3 561.0,567.6 565.9,553.1 570.8,550.1 575.8,540.5 580.7,536.7 585.6,533.9 590.5,531.2 595.5,539.7 600.4,540.0 605.3,542.5 610.2,532.2 615.2,540.9 620.1,554.2 625.0,551.4 630.0,552.1 634.9,548.1 639.8,549.6 644.7,549.2 649.7,556.4 654.6,545.9 659.5,534.2 664.4,506.7 669.4,502.5 674.3,505.0 679.2,541.7 684.1,540.0 689.1,530.0 694.0,523.7 698.9,522.8 703.8,533.4 708.8,548.1 713.7,543.9 718.6,543.7 723.5,562.6 728.5,559.6 733.4,556.7 738.3,543.0 743.2,544.7 748.2,543.4 753.1,528.9 758.0,537.5 763.0,535.9 767.9,549.2 772.8,555.9 777.7,552.6 782.7,549.2 787.6,549.2 792.5,544.5 797.4,545.4 802.4,580.4 807.3,583.4 812.2,579.8 817.1,584.6 822.1,594.3 827.0,591.5 831.9,594.6 836.8,586.3 841.8,593.5 846.7,591.8 851.6,596.3 856.5,607.3 861.5,607.3"/>
</g>
<g transform="translate(861.6,504.4)"><circle r="12.2" fill="#fff" stroke="#9c27b0" stroke-width="1.8"/><path d="M3.05,-6.72 L3.95,-6.35 L0.69,-1.06 L6.56,-1.02 L4.5,-0.2 L-3.05,6.72 L-3.95,6.35 L-0.69,1.06 L-6.56,1.02 L-4.5,0.2 Z" fill="#9c27b0"/></g>
<rect x="721.8" y="236.8" width="80.3" height="22.2" fill="none" stroke="#2962ff" stroke-width="1.7"/>
<g transform="translate(13,730.1) scale(0.687,0.6667)" fill="#131722"><path d="M14 22H7V11H0V4h14v18zM28 22h-8l7.5-18h8L28 22z"/><circle cx="20" cy="8" r="4"/></g>
<g font-family="'Liberation Sans',sans-serif" text-rendering="geometricPrecision">
<text transform="translate(13.01,25.00) scale(0.9774,1)" font-size="14.5" fill="#131722">dasseoservices</text>
<text transform="translate(114.45,25.00) scale(1.0578,1)" font-size="14.5" fill="#131722">published</text>
<text transform="translate(184.28,25.00) scale(1.0297,1)" font-size="14.5" fill="#131722">on</text>
<text transform="translate(205.99,25.00) scale(1.0185,1)" font-size="14.5" fill="#131722">TradingView.com,</text>
<text transform="translate(327.73,25.00) scale(0.9728,1)" font-size="14.5" fill="#131722">Mar</text>
<text transform="translate(358.73,25.00) scale(0.9442,1)" font-size="14.5" fill="#131722">31,</text>
<text transform="translate(383.12,25.00) scale(0.9680,1)" font-size="14.5" fill="#131722">2025</text>
<text transform="translate(419.90,25.00) scale(0.9965,1)" font-size="14.5" fill="#131722">12:09</text>
<text transform="translate(460.44,25.00) scale(0.9672,1)" font-size="14.5" fill="#131722">UTC+5:30</text>
<text transform="translate(22.82,59.00) scale(0.7565,1)" font-size="16" fill="#131722">BERA</text>
<text transform="translate(63.32,59.00) scale(1.1000,1)" font-size="16" fill="#131722">/</text>
<text transform="translate(74.33,59.00) scale(0.8916,1)" font-size="16" fill="#131722">TetherUS</text>
<text transform="translate(137.84,59.00) scale(1.1000,1)" font-size="16" fill="#131722">·</text>
<text transform="translate(148.72,59.00) scale(0.9395,1)" font-size="16" fill="#131722">4h</text>
<text transform="translate(169.14,59.00) scale(1.1000,1)" font-size="16" fill="#131722">·</text>
<text transform="translate(178.75,59.00) scale(0.8112,1)" font-size="16" fill="#131722">BINANCE</text>
<text transform="translate(245.84,59.00) scale(0.8000,1)" font-size="16" fill="#131722">O</text>
<text transform="translate(255.45,59.00) scale(0.9419,1)" font-size="16" fill="#089981">6.896</text>
<text transform="translate(301.80,59.00) scale(0.9222,1)" font-size="16" fill="#131722">H</text>
<text transform="translate(312.27,59.00) scale(0.9107,1)" font-size="16" fill="#089981">7.006</text>
<text transform="translate(358.12,59.00) scale(0.8000,1)" font-size="16" fill="#131722">L</text>
<text transform="translate(365.16,59.00) scale(0.9211,1)" font-size="16" fill="#089981">6.863</text>
<text transform="translate(411.36,59.00) scale(0.8039,1)" font-size="16" fill="#131722">C</text>
<text transform="translate(421.29,59.00) scale(0.8822,1)" font-size="16" fill="#089981">6.899</text>
<text transform="translate(466.67,59.00) scale(0.8982,1)" font-size="16" fill="#089981">+0.003</text>
<text transform="translate(515.81,59.00) scale(0.8798,1)" font-size="16" fill="#089981">(+0.04%)</text>
<text transform="translate(1113.85,48.00) scale(0.9571,1)" font-size="15.7" fill="#131722">13.000</text>
<text transform="translate(1113.85,104.00) scale(0.9571,1)" font-size="15.7" fill="#131722">12.000</text>
<text transform="translate(1113.82,158.00) scale(0.9818,1)" font-size="15.7" fill="#131722">11.000</text>
<text transform="translate(1113.85,214.00) scale(0.9571,1)" font-size="15.7" fill="#131722">10.000</text>
<text transform="translate(1114.32,325.00) scale(0.9618,1)" font-size="15.7" fill="#131722">8.000</text>
<text transform="translate(1114.13,380.00) scale(0.9669,1)" font-size="15.7" fill="#131722">7.000</text>
<text transform="translate(1114.22,436.00) scale(0.9643,1)" font-size="15.7" fill="#131722">6.000</text>
<text transform="translate(1114.32,491.00) scale(0.9618,1)" font-size="15.7" fill="#131722">5.000</text>
<text transform="translate(1113.82,559.00) scale(0.9670,1)" font-size="15.7" fill="#131722">60.00</text>
<text transform="translate(1113.82,636.00) scale(0.9670,1)" font-size="15.7" fill="#131722">20.00</text>
<text transform="translate(725.71,253.00) scale(0.9806,1)" font-size="15" fill="#2962ff">Shoulder</text>
<text transform="translate(789.63,253.00) scale(0.8000,1)" font-size="15" fill="#2962ff">1</text>
<text transform="translate(563.41,353.00) scale(0.9772,1)" font-size="15" fill="#2962ff">Shoulder</text>
<text transform="translate(626.73,353.00) scale(0.8000,1)" font-size="15" fill="#2962ff">1</text>
<text transform="translate(883.68,360.00) scale(0.9352,1)" font-size="15" fill="#2962ff">Possible</text>
<text transform="translate(941.12,360.00) scale(0.9671,1)" font-size="15" fill="#2962ff">Shoulder</text>
<text transform="translate(1004.09,360.00) scale(1.0145,1)" font-size="15" fill="#2962ff">2</text>
<text transform="translate(22.81,547.00) scale(0.8213,1)" font-size="14.8" fill="#131722">RSI</text>
<text transform="translate(48.19,547.00) scale(1.0090,1)" font-size="14.8" fill="#131722">(14,</text>
<text transform="translate(78.80,547.00) scale(1.0066,1)" font-size="14.8" fill="#131722">close)</text>
<text transform="translate(127.42,547.00) scale(0.9692,1)" font-size="14.8" fill="#7e57c2">31.91</text>
<text transform="translate(172.90,547.00) scale(0.9860,1)" font-size="14.8" fill="#fdd835">41.71</text>
<text transform="translate(219.89,547.00) scale(0.8155,1)" font-size="14.4" fill="#131722">Ø</text>
<text transform="translate(238.99,547.00) scale(0.8252,1)" font-size="14.4" fill="#131722">Ø</text>
<text transform="translate(21.94,665.00) scale(0.8851,1)" font-size="14.8" fill="#131722">MACD</text>
<text transform="translate(65.57,665.00) scale(1.0348,1)" font-size="14.8" fill="#131722">(12,</text>
<text transform="translate(96.55,665.00) scale(1.0775,1)" font-size="14.8" fill="#131722">26,</text>
<text transform="translate(121.99,665.00) scale(1.0118,1)" font-size="14.8" fill="#131722">close)</text>
<text transform="translate(171.32,665.00) scale(0.9764,1)" font-size="14.8" fill="#ff5252">−0.126</text>
<text transform="translate(225.33,665.00) scale(0.9628,1)" font-size="14.8" fill="#2962ff">−0.216</text>
<text transform="translate(279.31,665.00) scale(0.9787,1)" font-size="14.8" fill="#ff6d00">−0.090</text>
<text transform="translate(49.46,705.00) scale(1.0000,1)" font-size="14" fill="#131722">4</text>
<text transform="translate(138.08,705.00) scale(1.0000,1)" font-size="14" fill="#131722">7</text>
<text transform="translate(222.60,705.00) scale(1.0000,1)" font-size="14" fill="#131722">10</text>
<text transform="translate(311.32,705.00) scale(1.0000,1)" font-size="14" fill="#131722">13</text>
<text transform="translate(399.99,705.00) scale(1.0000,1)" font-size="14" fill="#131722">16</text>
<text transform="translate(488.65,705.00) scale(1.0000,1)" font-size="14" fill="#131722">19</text>
<text transform="translate(577.52,705.00) scale(1.0000,1)" font-size="14" fill="#131722">22</text>
<text transform="translate(666.14,705.00) scale(1.0000,1)" font-size="14" fill="#131722">25</text>
<text transform="translate(754.81,705.00) scale(1.0000,1)" font-size="14" fill="#131722">28</text>
<text transform="translate(965.69,705.00) scale(1.0000,1)" font-size="14" fill="#131722">4</text>
<text transform="translate(1054.31,705.00) scale(1.0000,1)" font-size="14" fill="#131722">7</text>
<text transform="translate(868.74,705.00) scale(1.0000,1)" font-size="14" fill="#131722" font-weight="bold">Apr</text>
<text transform="translate(41.69,745.00) scale(1.0282,1)" font-size="15.5" fill="#131722">TradingView</text>
<path d="M1104,258.1 h52 a2,2 0 0 1 2,2 v16.7 a2,2 0 0 1 -2,2 h-52 Z" fill="#f23645"/>
<path d="M1104,349.1 h52 a2,2 0 0 1 2,2 v16.6 a2,2 0 0 1 -2,2 h-52 Z" fill="#f23645"/>
<path d="M1104,370.9 h73.2 a2,2 0 0 1 2,2 v34.8 a2,2 0 0 1 -2,2 h-73.2 Z" fill="#089981"/>
<path d="M1104,409.7 h52 a2,2 0 0 1 2,2 v15.899999999999999 a2,2 0 0 1 -2,2 h-52 Z" fill="#4caf50"/>
<path d="M1104,454 h52 a2,2 0 0 1 2,2 v16.3 a2,2 0 0 1 -2,2 h-52 Z" fill="#4caf50"/>
<path d="M1104,576.1 h52.2 a2,2 0 0 1 2,2 v16.5 a2,2 0 0 1 -2,2 h-52.2 Z" fill="#fdd835"/>
<path d="M1104,596.7 h52.2 a2,2 0 0 1 2,2 v17 a2,2 0 0 1 -2,2 h-52.2 Z" fill="#7e57c2"/>
<text transform="translate(1114.32,274.00) scale(0.9616,1)" font-size="15.7" fill="#fff">8.932</text>
<text transform="translate(1114.13,364.00) scale(0.9642,1)" font-size="15.7" fill="#fff">7.008</text>
<text transform="translate(1114.23,424.00) scale(0.9616,1)" font-size="15.7" fill="#fff">6.548</text>
<text transform="translate(1114.32,469.00) scale(0.9591,1)" font-size="15.7" fill="#fff">5.398</text>
<text transform="translate(1114.61,592.00) scale(0.9541,1)" font-size="15.7" fill="#131722">41.71</text>
<text transform="translate(1114.42,613.00) scale(0.9591,1)" font-size="15.7" fill="#fff">31.91</text>
<text transform="translate(1114.22,386.00) scale(0.9694,1)" font-size="15.7" fill="#fff">6.899</text>
<text transform="translate(1114.30,404.00) scale(1.0070,1)" font-size="15.7" fill="#fff" fill-opacity="0.8">01:20:50</text>
</g>
</svg>

</body></html>
